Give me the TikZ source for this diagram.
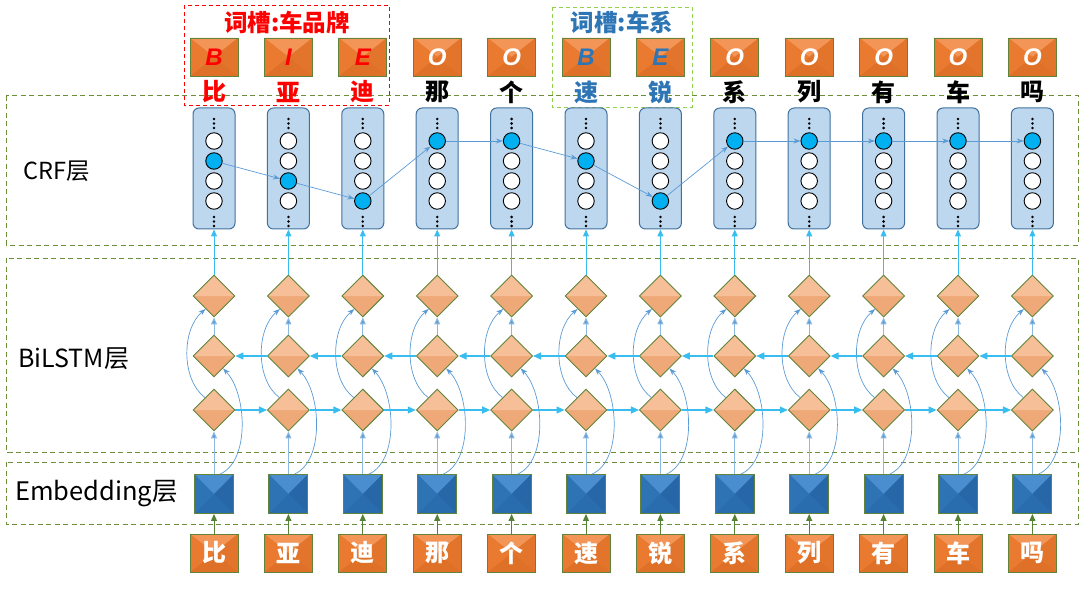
\documentclass[tikz,border=0pt]{standalone}
\usepackage{fontspec}
\setmainfont{Noto Sans CJK SC}
\newfontfamily\tagfont{Liberation Sans}
\usetikzlibrary{shapes.geometric,arrows.meta,calc}
\definecolor{laygreen}{HTML}{6B8E3D}
\definecolor{slotgreen}{HTML}{92D050}
\definecolor{slotred}{HTML}{FF0000}
\definecolor{slotblue}{HTML}{2E75B6}
\definecolor{boxborder}{HTML}{62843A}
\definecolor{orbase}{HTML}{ED7D31}
\definecolor{ortop}{HTML}{F29556}
\definecolor{orright}{HTML}{E2742B}
\definecolor{orbot}{HTML}{DE7027}
\definecolor{orleft}{HTML}{E97A2F}
\definecolor{blbase}{HTML}{2E75B6}
\definecolor{bltop}{HTML}{4A8ED0}
\definecolor{blright}{HTML}{2767A8}
\definecolor{blbot}{HTML}{2A6DAF}
\definecolor{blleft}{HTML}{2E73B4}
\definecolor{dbase}{HTML}{EFA979}
\definecolor{dtop}{HTML}{F6BF98}
\definecolor{colfill}{HTML}{BDD7EE}
\definecolor{colborder}{HTML}{41719C}
\definecolor{hlblue}{HTML}{00B0F0}
\definecolor{arrcyan}{HTML}{38BDF0}
\definecolor{arrblue}{HTML}{5B9BD5}
\definecolor{arrgreen}{HTML}{548235}
\newcommand\envfill[4]{%
  \fill[#1] (path picture bounding box.north west) -- (path picture bounding box.north east) -- (path picture bounding box.center) -- cycle;
  \fill[#2] (path picture bounding box.north east) -- (path picture bounding box.south east) -- (path picture bounding box.center) -- cycle;
  \fill[#3] (path picture bounding box.south east) -- (path picture bounding box.south west) -- (path picture bounding box.center) -- cycle;
  \fill[#4] (path picture bounding box.south west) -- (path picture bounding box.north west) -- (path picture bounding box.center) -- cycle;}
\tikzset{
  layerbox/.style={draw=laygreen, dash pattern=on 5pt off 3.5pt, line width=1pt},
  orbox/.style={rectangle, minimum width=48pt, minimum height=38pt, inner sep=0pt, draw=boxborder, line width=0.9pt, fill=orbase, path picture={\envfill{ortop}{orright}{orbot}{orleft}}},
  embox/.style={rectangle, minimum width=39pt, minimum height=39pt, inner sep=0pt, draw=boxborder, line width=0.9pt, fill=blbase, path picture={\envfill{bltop}{blright}{blbot}{blleft}}},
  dia/.style={diamond, aspect=1, minimum width=42pt, minimum height=42pt, inner sep=0pt, draw=boxborder, line width=0.9pt, fill=dbase, path picture={\fill[dtop] (path picture bounding box.west) -- (path picture bounding box.north) -- (path picture bounding box.east) -- cycle;}},
  crfcol/.style={rectangle, rounded corners=6pt, minimum width=42pt, minimum height=121pt, inner sep=0pt, draw=colborder, line width=1pt, fill=colfill},
  circ/.style={circle, minimum size=16.5pt, inner sep=0pt, draw=black, line width=0.9pt},
  tagtxt/.style={font=\tagfont\bfseries\itshape\fontsize{24}{24}\selectfont},
  chtxt/.style={font=\bfseries\fontsize{24}{24}\selectfont, inner sep=0pt},
  laytxt/.style={inner sep=0pt, anchor=west},
  uparr/.style={draw=arrcyan, line width=1pt, -{Triangle[length=7pt,width=6pt]}},
  harr/.style={draw=arrcyan, line width=1.2pt, -{Triangle[length=8pt,width=7pt]}},
  vblue/.style={draw=arrblue!70, line width=1pt, -{Triangle[length=7pt,width=6pt,fill=arrblue]}},
  curv/.style={draw=arrblue, line width=0.7pt, -{Stealth[length=7pt,width=5pt]}},
  trans/.style={draw=arrblue, line width=0.7pt, -{Stealth[length=7pt,width=5pt]}},
  inarr/.style={draw=arrgreen, line width=1pt, -{Triangle[length=7pt,width=6pt]}}
}
\begin{document}
\begin{tikzpicture}[x=1pt,y=-1pt]
\useasboundingbox (0,0) rectangle (1080,591);
% layer boxes
\draw[layerbox] (6,96) rectangle (1078,245);
\draw[layerbox] (6,258) rectangle (1078,452);
\draw[layerbox] (6,462) rectangle (1078,524);
% slot boxes
\draw[draw=slotred, dash pattern=on 4pt off 3pt, line width=0.9pt] (184,5) rectangle (389,105);
\draw[draw=slotgreen, dash pattern=on 4pt off 3pt, line width=0.9pt] (552,7) rectangle (692,107);
\node[font=\bfseries\fontsize{23.5}{23.5}\selectfont, text=slotred, inner sep=0pt] (slot1) at (287,22) {词槽:车品牌};
\node[font=\bfseries\fontsize{23.5}{23.5}\selectfont, text=slotblue, inner sep=0pt] (slot2) at (622,22) {词槽:车系};
% layer labels
\node[laytxt, font=\fontsize{23.5}{23.5}\selectfont] (lcrf) at (23,171) {CRF层};
\node[laytxt, font=\fontsize{25}{25}\selectfont] (lbi) at (18,359) {BiLSTM层};
\node[laytxt, font=\fontsize{25.5}{25.5}\selectfont] (lemb) at (15,494) {Embedding层};
% columns
\foreach \i/\tg/\tgc/\ch/\chc/\hl in {1/B/slotred/比/slotred/2, 2/I/slotred/亚/slotred/3, 3/E/slotred/迪/slotred/4, 4/O/white/那/black/1, 5/O/white/个/black/1, 6/B/slotblue/速/slotblue/2, 7/E/slotblue/锐/slotblue/4, 8/O/white/系/black/1, 9/O/white/列/black/1, 10/O/white/有/black/1, 11/O/white/车/black/1, 12/O/white/吗/black/1}{
  \pgfmathsetmacro\x{214+74.4*(\i-1)}
  \node[orbox, tagtxt, text=\tgc] (tg\i) at (\x,57) {\tg};
  \node[chtxt, text=\chc] (tc\i) at (\x,92) {\ch};
  \node[crfcol] (c\i) at (\x,168.5) {};
  \foreach \yy in {119,123.5,128,217,221.5,226}{\fill (\x,\yy) circle (1.4pt);}
  \foreach \j in {1,...,4}{
    \ifnum\j=\hl\relax\def\cf{hlblue}\else\def\cf{white}\fi
    \node[circ, fill=\cf] (k\i-\j) at (\x,{121+20*\j}) {};
  }
  \node[dia] (t\i) at (\x,296) {};
  \node[dia] (m\i) at (\x,356) {};
  \node[dia] (b\i) at (\x,410) {};
  \node[embox] (e\i) at (\x,494) {};
  \node[orbox, chtxt, text=white] (in\i) at (\x,553) {\ch};
  \draw[inarr] (in\i.north) -- (e\i.south);
  \draw[vblue] (e\i.north) -- (b\i.south);
  \draw[vblue] (m\i.north) -- (t\i.south);
  \draw[uparr] (t\i.north) -- (c\i.south);
  \draw[curv] (b\i.126) .. controls +(-24,-18) and +(-24,20) .. (t\i.237);
  \draw[curv] (e\i.73) .. controls +(30,-13) and +(24,25) .. (m\i.-54);
}
\foreach \a/\b in {1/2,2/3,3/4,4/5,5/6,6/7,7/8,8/9,9/10,10/11,11/12}{
  \draw[harr] (b\a.east) -- (b\b.west);
  \draw[harr] (m\b.west) -- (m\a.east);
}
\foreach \a/\ha/\b/\hb in {1/2/2/3, 2/3/3/4, 3/4/4/1, 4/1/5/1, 5/1/6/2, 6/2/7/4, 7/4/8/1, 8/1/9/1, 9/1/10/1, 10/1/11/1, 11/1/12/1}{
  \draw[trans] (k\a-\ha) -- (k\b-\hb);
}
\end{tikzpicture}
\end{document}
